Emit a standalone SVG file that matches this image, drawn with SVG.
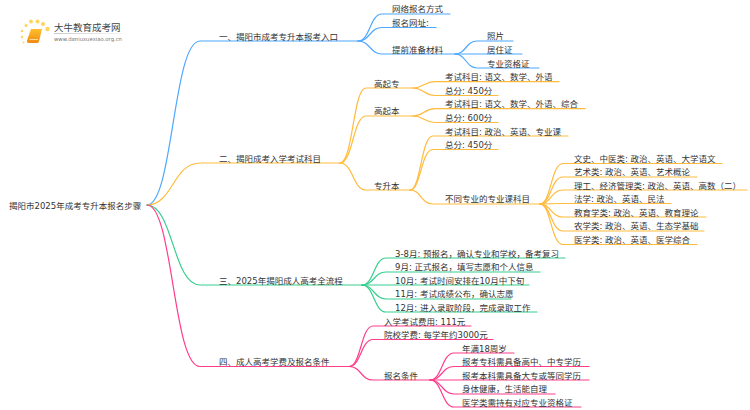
<svg xmlns="http://www.w3.org/2000/svg" width="750" height="410" viewBox="0 0 750 410">
<style>
text{font-family:"DejaVu Sans","Noto Sans CJK SC",sans-serif;font-size:8.5px;fill:#333}
.c{fill:none;stroke-width:1.2;stroke-linecap:round}
.b{stroke:#4da8ff}.o{stroke:#ffbb3d}.g{stroke:#36cf90}.p{stroke:#ff3d8b}
</style>
<defs><linearGradient id="fade" x1="0" x2="1" y1="0" y2="0"><stop offset="0" stop-color="#bbb"/><stop offset="1" stop-color="#fff"/></linearGradient>
<linearGradient id="book" x1="0" x2="0" y1="0" y2="1"><stop offset="0" stop-color="#ffc02e"/><stop offset="1" stop-color="#f08a12"/></linearGradient></defs>
<rect width="750" height="410" fill="#fff"/>
<g id="logo">
<g fill="#ffd35c"><circle cx="31" cy="21.500" r="1.900"/><circle cx="37.500" cy="21.500" r="2"/><circle cx="43" cy="24" r="2"/><circle cx="47.500" cy="29" r="2.200"/><circle cx="26" cy="25.500" r="1.600"/><circle cx="22" cy="31" r="1.300"/><circle cx="22" cy="37" r="1.200"/><circle cx="23.500" cy="42.500" r="1"/></g>
<path d="M31 29h11l-3 12.500q-.5 1.500-2 1.500H29q-2.500 0-2-2.500z" fill="url(#book)"/>
<path d="M29.500 39.500h8.500" stroke="#ffe2a8" stroke-width=".9" fill="none"/>
<text x="54" y="30.500" style="font-size:9.500px;fill:#444">大牛教育成考网</text>
<rect x="54" y="33" width="80" height=".8" fill="url(#fade)"/>
<text x="54" y="41" style="font-size:5.300px;fill:#777">www.daniuxuexiao.org.cn</text>
</g>
<g id="connectors">
<g>
<path class="c b" d="M147 205C173 205 173 41 200 41H358"/>
<path class="c b" d="M358 41C370 41 370 14 382 14H450"/>
<path class="c b" d="M358 41C370 41 370 27.500 382 27.500H436"/>
<path class="c b" d="M358 41C370 41 370 54 382 54H455"/>
<path class="c b" d="M455 54C466 54 466 41 477 41H513"/>
<path class="c b" d="M455 54C466 54 466 54 477 54H522"/>
<path class="c b" d="M455 54C466 54 466 68 477 68H539"/>
</g>
<g>
<path class="c o" d="M147 205C173 205 173 163 200 163H340"/>
<path class="c o" d="M340 163C353 163 353 88 366 88H413"/>
<path class="c o" d="M340 163C353 163 353 116 366 116H413"/>
<path class="c o" d="M340 163C353 163 353 190 366 190H410"/>
<path class="c o" d="M413 88C424 88 424 81.700 435 81.700H559"/>
<path class="c o" d="M413 88C424 88 424 95.500 435 95.500H498"/>
<path class="c o" d="M413 116C424 116 424 108.700 435 108.700H585"/>
<path class="c o" d="M413 116C424 116 424 122.500 435 122.500H498"/>
<path class="c o" d="M410 190C421 190 421 136 433 136H568"/>
<path class="c o" d="M410 190C421 190 421 149.500 433 149.500H498"/>
<path class="c o" d="M410 190C421 190 421 204 433 204H540"/>
<path class="c o" d="M540 204C551 204 551 163.500 563 163.500H722"/>
<path class="c o" d="M540 204C551 204 551 177 563 177H697"/>
<path class="c o" d="M540 204C551 204 551 190 563 190H747"/>
<path class="c o" d="M540 204C551 204 551 203.500 563 203.500H671"/>
<path class="c o" d="M540 204C551 204 551 217 563 217H706"/>
<path class="c o" d="M540 204C551 204 551 231 563 231H704"/>
<path class="c o" d="M540 204C551 204 551 244.500 563 244.500H697"/>
</g>
<g>
<path class="c g" d="M147 205C173 205 173 285 200 285H362"/>
<path class="c g" d="M362 285C374 285 374 258 386 258H565"/>
<path class="c g" d="M362 285C374 285 374 272 386 272H540"/>
<path class="c g" d="M362 285C374 285 374 285 386 285H529"/>
<path class="c g" d="M362 285C374 285 374 299 386 299H511"/>
<path class="c g" d="M362 285C374 285 374 312 386 312H537"/>
</g>
<g>
<path class="c p" d="M147 205C173 205 173 366.500 200 366.500H349"/>
<path class="c p" d="M349 366.500C361 366.500 361 326 373 326H471"/>
<path class="c p" d="M349 366.500C361 366.500 361 339.500 373 339.500H493"/>
<path class="c p" d="M349 366.500C361 366.500 361 380 373 380H430"/>
<path class="c p" d="M430 380C442 380 442 353 454 353H514"/>
<path class="c p" d="M430 380C442 380 442 366.500 454 366.500H589"/>
<path class="c p" d="M430 380C442 380 442 380 454 380H589"/>
<path class="c p" d="M430 380C442 380 442 394 454 394H555"/>
<path class="c p" d="M430 380C442 380 442 407 454 407H581"/>
</g>
</g>
<g id="labels" transform="translate(0,1)">
<g id="root"><text x="9" y="207.500">揭阳市2025年成考专升本报名步骤</text></g>
<g id="n1"><text x="219" y="38.500">一、揭阳市成考专升本报考入口</text></g>
<g id="n1-1"><text x="392" y="11">网络报名方式</text></g>
<g id="n1-2"><text x="392" y="25">报名网址:</text></g>
<g id="n1-3"><text x="392" y="52">提前准备材料</text></g>
<g id="n1-3-1"><text x="487" y="38">照片</text></g>
<g id="n1-3-2"><text x="487" y="52">居住证</text></g>
<g id="n1-3-3"><text x="487" y="66">专业资格证</text></g>
<g id="n2"><text x="219" y="161">二、揭阳成考入学考试科目</text></g>
<g id="n2-1"><text x="374" y="86">高起专</text></g>
<g id="n2-1-1"><text x="445" y="79">考试科目: 语文、数学、外语</text></g>
<g id="n2-1-2"><text x="445" y="93">总分: 450分</text></g>
<g id="n2-2"><text x="374" y="113">高起本</text></g>
<g id="n2-2-1"><text x="445" y="106">考试科目: 语文、数学、外语、综合</text></g>
<g id="n2-2-2"><text x="445" y="120">总分: 600分</text></g>
<g id="n2-3"><text x="374" y="188">专升本</text></g>
<g id="n2-3-1"><text x="445" y="134">考试科目: 政治、英语、专业课</text></g>
<g id="n2-3-2"><text x="445" y="147">总分: 450分</text></g>
<g id="n2-3-3"><text x="445" y="201">不同专业的专业课科目</text></g>
<g id="n2-3-3-1"><text x="574" y="161">文史、中医类: 政治、英语、大学语文</text></g>
<g id="n2-3-3-2"><text x="574" y="174">艺术类: 政治、英语、艺术概论</text></g>
<g id="n2-3-3-3"><text x="574" y="188">理工、经济管理类: 政治、英语、高数（二）</text></g>
<g id="n2-3-3-4"><text x="574" y="201">法学: 政治、英语、民法</text></g>
<g id="n2-3-3-5"><text x="574" y="215">教育学类: 政治、英语、教育理论</text></g>
<g id="n2-3-3-6"><text x="574" y="228">农学类: 政治、英语、生态学基础</text></g>
<g id="n2-3-3-7"><text x="574" y="242">医学类: 政治、英语、医学综合</text></g>
<g id="n3"><text x="219" y="283">三、2025年揭阳成人高考全流程</text></g>
<g id="n3-1"><text x="395" y="256">3-8月: 预报名，确认专业和学校，备考复习</text></g>
<g id="n3-2"><text x="395" y="269">9月: 正式报名，填写志愿和个人信息</text></g>
<g id="n3-3"><text x="395" y="283">10月: 考试时间安排在10月中下旬</text></g>
<g id="n3-4"><text x="395" y="296">11月: 考试成绩公布，确认志愿</text></g>
<g id="n3-5"><text x="395" y="310">12月: 进入录取阶段，完成录取工作</text></g>
<g id="n4"><text x="219" y="364">四、成人高考学费及报名条件</text></g>
<g id="n4-1"><text x="384" y="324">入学考试费用: 111元</text></g>
<g id="n4-2"><text x="384" y="337">院校学费: 每学年约3000元</text></g>
<g id="n4-3"><text x="384" y="378">报名条件</text></g>
<g id="n4-3-1"><text x="462" y="351">年满18周岁</text></g>
<g id="n4-3-2"><text x="462" y="364">报考专科需具备高中、中专学历</text></g>
<g id="n4-3-3"><text x="462" y="378">报考本科需具备大专或等同学历</text></g>
<g id="n4-3-4"><text x="462" y="391">身体健康，生活能自理</text></g>
<g id="n4-3-5"><text x="462" y="405">医学类需持有对应专业资格证</text></g>
</g>
</svg>
